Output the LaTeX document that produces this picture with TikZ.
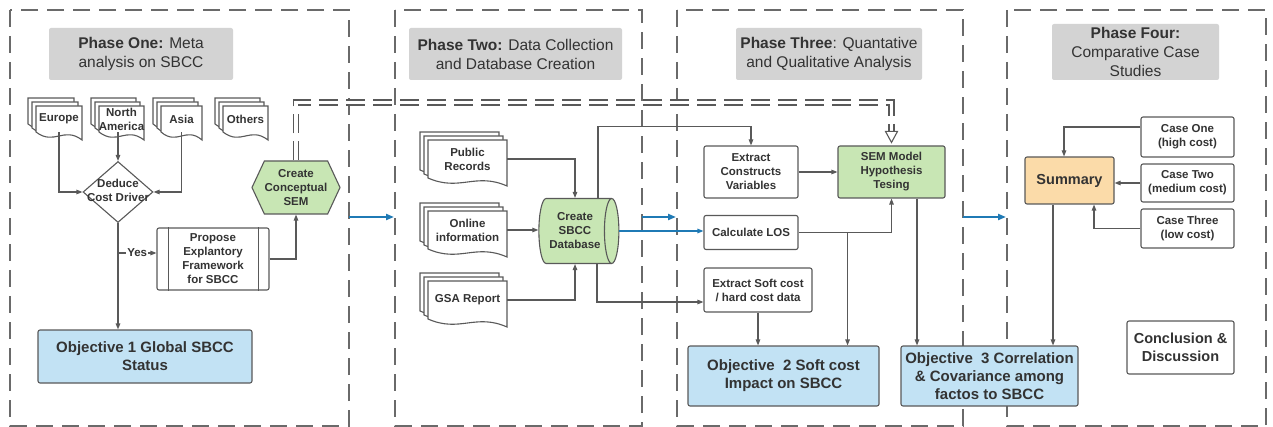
\documentclass[tikz,border=0pt]{standalone}
\usepackage{fontspec}
\setmainfont{Liberation Sans}
\usetikzlibrary{arrows.meta,shapes.geometric,shapes.symbols,calc}

\definecolor{ink}{HTML}{333333}
\definecolor{edge}{HTML}{595959}
\definecolor{frame}{HTML}{6A6A6A}
\definecolor{titlefill}{HTML}{D3D3D3}
\definecolor{greenfill}{HTML}{C8E6B4}
\definecolor{bluefill}{HTML}{C2E2F4}
\definecolor{orangefill}{HTML}{FBDBA9}
\definecolor{flowblue}{HTML}{1F7AB5}

\newcommand\smallbold{\fontsize{11.5}{14}\selectfont\bfseries}

\tikzset{
  phaseframe/.style={draw=frame, line width=1.8pt, dash pattern=on 17pt off 9pt},
  titlebox/.style={fill=titlefill, rounded corners=2pt, text=ink, align=center,
    font=\fontsize{15.5}{19}\selectfont, inner sep=0pt},
  box/.style={draw=edge, line width=1.1pt, rounded corners=2pt, fill=white, text=ink,
    align=center, font=\smallbold, inner sep=1pt},
  objective/.style={box, fill=bluefill, font=\fontsize{15}{18}\selectfont\bfseries},
  bigbox/.style={box, font=\fontsize{14.5}{18}\selectfont\bfseries},
  sheet/.style={draw=edge, line width=1.1pt, fill=white},
  doclabel/.style={text=ink, align=center, font=\smallbold, inner sep=0pt},
  link/.style={draw=edge, line width=1.1pt, -{Triangle[length=6pt,width=4.5pt]}},
  bluelink/.style={draw=flowblue, line width=1.2pt, -{Triangle[length=6pt,width=4.5pt]}},
  phaselink/.style={draw=flowblue, line width=2pt, -{Triangle[length=8pt,width=6pt]}},
  conceptlink/.style={draw=edge, line width=1.5pt, double=white, double distance=3.2pt,
    dash pattern=on 19pt off 8pt},
}

% one sheet of a document stack: x, y of top-left corner, width, height of the straight part
\newcommand\docpaper[4]{%
  \filldraw[sheet] (#1,#2) -- ++(#3,0) -- ++(0,#4+8)
    .. controls +(-0.4*#3,-14) and +(0.4*#3,14) .. ++(-#3,-8) -- cycle;}

% stack of three sheets with a named label node on the front sheet
\newcommand\docstack[6]{%
  \docpaper{#2}{#3}{#4}{#5}%
  \docpaper{#2+4}{#3+4}{#4}{#5}%
  \docpaper{#2+8}{#3+8}{#4}{#5}%
  \node[doclabel, minimum width=#4, minimum height=#5] (#1) at (#2+8+#4/2,#3+8+#5/2) {#6};}

\begin{document}
\begin{tikzpicture}[x=1pt,y=-1pt]
\useasboundingbox (0,0) rectangle (1273,427);

% phase frames
\draw[phaseframe] (10,10) rectangle (349,426);
\draw[phaseframe] (395,10) rectangle (642,426);
\draw[phaseframe] (677,10) rectangle (963,426);
\draw[phaseframe] (1007,10) rectangle (1266,426);

% phase titles
\node[titlebox, minimum width=184, minimum height=52] (t1) at (141,54) {\textbf{Phase One:} Meta\\analysis on SBCC};
\node[titlebox, minimum width=213, minimum height=52] (t2) at (515.5,54) {\textbf{Phase Two:} Data Collection\\and Database Creation};
\node[titlebox, minimum width=186, minimum height=52] (t3) at (829,54) {\textbf{Phase Three}: Quantative\\and Qualitative Analysis};
\node[titlebox, minimum width=167, minimum height=56] (t4) at (1135.5,52) {\textbf{Phase Four:}\\Comparative Case\\Studies};

% ---------- phase one ----------
\docstack{eu}{28}{98}{46}{26}{Europe}
\docstack{na}{91}{98}{45}{26}{North\\America}
\docstack{as}{153}{98}{41}{26}{Asia}
\docstack{ot}{215}{98}{45}{26}{Others}

\node[diamond, draw=edge, line width=1.1pt, fill=white, text=ink, inner sep=0pt,
  minimum width=70, minimum height=61, font=\smallbold]
  (dd) at (118,192) {\makebox[0pt][c]{\begin{tabular}{@{}c@{}}Deduce\\Cost Driver\end{tabular}}};

\node[signal, signal to=east and west, signal pointer angle=130, draw=edge, line width=1.1pt,
  fill=greenfill, text=ink, align=center, inner sep=0pt, minimum width=88, minimum height=53,
  font=\smallbold] (hex) at (296,187.5) {Create\\Conceptual\\SEM};

\node[box, minimum width=112, minimum height=62]
  (pp) at (213,259) {Propose\\Explantory\\Framework\\for SBCC};
\draw[draw=edge, line width=1.1pt] ([xshift=12pt]pp.north west) -- ([xshift=12pt]pp.south west)
  ([xshift=-11pt]pp.north east) -- ([xshift=-11pt]pp.south east);

\node[objective, minimum width=214, minimum height=53] (o1) at (145,356.5) {Objective 1 Global SBCC\\Status};

\draw[link] (eu.south) |- (dd.west);
\draw[link] (as.south) |- (dd.east);
\draw[link] (na.south -| dd.north) -- (dd.north);
\draw[link, line width=1.4pt] (dd.south) -- (dd.south |- o1.north);
\coordinate (yesfrom) at (118,253);
\draw[link] (yesfrom) -- (yesfrom -| pp.west)
  node[midway, fill=white, inner sep=1pt, text=ink, font=\smallbold] {Yes};
\draw[link] (pp.east) -| (hex.south);

% ---------- phase two ----------
\docstack{pr}{420}{132}{79}{38}{Public\\Records}
\docstack{oi}{420}{203}{79}{38}{Online\\information}
\docstack{gsa}{420}{273}{79}{38}{GSA Report}

\node[cylinder, draw=edge, line width=1.1pt, fill=greenfill, text=ink, align=center,
  minimum width=65, minimum height=80, aspect=0.4, inner sep=0pt,
  font=\smallbold] (db) at (575,231) {Create\\SBCC\\Database};

\draw[link] (pr.east) -| (db.north);
\draw[link] (oi.east) -- (oi.east -| db.west);
\draw[link] (gsa.east) -| (db.south);

% ---------- phase three ----------
\node[box, minimum width=94, minimum height=52] (ec) at (751,172) {Extract\\Constructs\\Variables};
\node[box, fill=greenfill, minimum width=107, minimum height=52] (sem) at (891.5,172) {SEM Model\\Hypothesis\\Tesing};
\node[box, minimum width=94, minimum height=34] (los) at (751,232.5) {Calculate LOS};
\node[box, minimum width=108, minimum height=44] (es) at (758,290) {Extract Soft cost\\/ hard cost data};
\node[objective, minimum width=191, minimum height=60] (o2) at (783.5,376) {Objective~ 2 Soft cost\\Impact on SBCC};
\node[objective, minimum width=177, minimum height=60] (o3) at (989.5,376) {Objective~ 3 Correlation\\\& Covariance among\\factos to SBCC};

\draw[link] ([xshift=23pt]db.north) |- ($(ec.north)+(0,-19)$) -- (ec.north);
\draw[bluelink] (db.east) -- (db.east -| los.west);
\draw[link] ([xshift=22pt]db.south) |- ([yshift=-12pt]es.west);

\draw[link] (ec) -- (sem);
\draw[link] (los.east) -| (sem.south);
\coordinate (losbranch) at ($(los.east)+(49,0)$);
\draw[link] (losbranch) -- (losbranch |- o2.north);
\draw[link] (es.south) -- (es.south |- o2.north);
\coordinate (semout) at ($(sem.south)+(25.5,0)$);
\draw[link] (semout) -- (semout |- o3.north);

% conceptual model feeds the hypothesis test
\draw[conceptlink] (hex.north) |- ($(sem.north)+(0,-43)$) -- ($(sem.north)+(0,-14)$);
\filldraw[draw=edge, fill=white, line width=1.1pt] ($(sem.north)+(-6,-14)$) -- ($(sem.north)+(6,-14)$)
  -- ($(sem.north)+(0,-3)$) -- cycle;

% ---------- phase four ----------
\node[bigbox, fill=orangefill, minimum width=89, minimum height=47] (sum) at (1069.5,180.5) {Summary};
\node[box, minimum width=93, minimum height=40] (c1) at (1187.5,137) {Case One\\(high cost)};
\node[box, minimum width=93, minimum height=38] (c2) at (1187.5,183) {Case Two\\(medium cost)};
\node[box, minimum width=93, minimum height=39] (c3) at (1187.5,228.5) {Case Three\\(low cost)};
\node[bigbox, minimum width=107, minimum height=53] (cd) at (1180.5,347.5) {Conclusion \&\\Discussion};

\draw[link] ([yshift=10pt]c1.west) -| ([xshift=-5.5pt]sum.north);
\draw[link] (c2.west) -- (c2.west -| sum.east);
\draw[link] (c3.west) -| ([xshift=24.5pt]sum.south);
\coordinate (sumout) at ($(sum.south)+(-16.5,0)$);
\draw[link] (sumout) -- (sumout |- o3.north);

% flow between phases
\coordinate (f1) at (349,217);
\coordinate (f2in) at (394,217);
\coordinate (f2) at (642,217);
\coordinate (f3in) at (676,217);
\coordinate (f3) at (963,217);
\coordinate (f4in) at (1006,217);
\draw[phaselink] (f1) -- (f2in);
\draw[phaselink] (f2) -- (f3in);
\draw[phaselink] (f3) -- (f4in);
\end{tikzpicture}
\end{document}
